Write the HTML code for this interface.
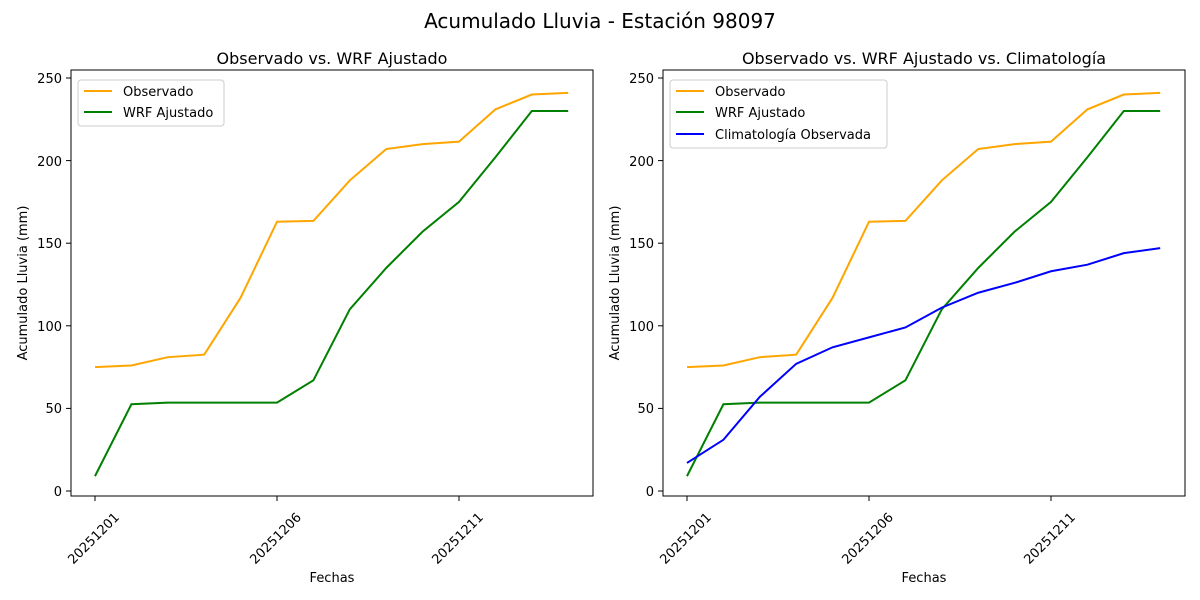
<!DOCTYPE html>
<html><head><meta charset="utf-8"><style>body{margin:0;background:#fff}svg{display:block;font-family:"DejaVu Sans","Liberation Sans",sans-serif}</style></head>
<body>
<svg width="1200" height="600" viewBox="0 0 1200 600">
<text x="600" y="28" font-size="20" text-anchor="middle">Acumulado Lluvia - Estación 98097</text>

<!-- LEFT -->
<g>
<text x="332" y="64" font-size="16" text-anchor="middle">Observado vs. WRF Ajustado</text>
<g transform="translate(95,491) scale(36.4,-1.652)" fill="none" stroke-width="2">
<polyline vector-effect="non-scaling-stroke" stroke="orange" points="0,75 1,76 2,81 3,82.5 4,117 5,163 6,163.5 7,188 8,207 9,210 10,211.5 11,231 12,240 13,241"/>
<polyline vector-effect="non-scaling-stroke" stroke="green" points="0,9 1,52.5 2,53.5 3,53.5 4,53.5 5,53.5 6,67 7,110 8,135 9,157 10,175 11,202 12,230 13,230"/>
</g>
<rect x="71" y="70" width="522" height="426" fill="none" stroke="#000" stroke-width="1"/>
<g stroke="#000"><line x1="71" x2="66" y1="491" y2="491"/><line x1="71" x2="66" y1="408.4" y2="408.4"/><line x1="71" x2="66" y1="325.8" y2="325.8"/><line x1="71" x2="66" y1="243.2" y2="243.2"/><line x1="71" x2="66" y1="160.6" y2="160.6"/><line x1="71" x2="66" y1="78" y2="78"/>
<line x1="95" x2="95" y1="496" y2="501"/><line x1="277" x2="277" y1="496" y2="501"/><line x1="459" x2="459" y1="496" y2="501"/></g>
<g font-size="13" text-anchor="end"><text x="62" y="496">0</text><text x="62" y="413">50</text><text x="62" y="331">100</text><text x="62" y="248">150</text><text x="62" y="166">200</text><text x="62" y="83">250</text></g>
<g font-size="13" text-anchor="end"><text transform="translate(120,518) rotate(-45)">20251201</text><text transform="translate(302,518) rotate(-45)">20251206</text><text transform="translate(484,518) rotate(-45)">20251211</text></g>
<text x="332" y="582" font-size="13" text-anchor="middle">Fechas</text>
<text transform="translate(27,283) rotate(-90)" font-size="13" text-anchor="middle">Acumulado Lluvia (mm)</text>
<rect x="78" y="80" width="146" height="46" rx="3" fill="#fff" stroke="#ccc"/>
<line x1="84" x2="112" y1="91" y2="91" stroke="orange" stroke-width="2"/><text x="123" y="96" font-size="13">Observado</text>
<line x1="84" x2="112" y1="112" y2="112" stroke="green" stroke-width="2"/><text x="123" y="117" font-size="13">WRF Ajustado</text>
</g>

<!-- RIGHT -->
<g transform="translate(592,0)">
<text x="332" y="64" font-size="16" text-anchor="middle">Observado vs. WRF Ajustado vs. Climatología</text>
<g transform="translate(95,491) scale(36.4,-1.652)" fill="none" stroke-width="2">
<polyline vector-effect="non-scaling-stroke" stroke="orange" points="0,75 1,76 2,81 3,82.5 4,117 5,163 6,163.5 7,188 8,207 9,210 10,211.5 11,231 12,240 13,241"/>
<polyline vector-effect="non-scaling-stroke" stroke="green" points="0,9 1,52.5 2,53.5 3,53.5 4,53.5 5,53.5 6,67 7,110 8,135 9,157 10,175 11,202 12,230 13,230"/>
<polyline vector-effect="non-scaling-stroke" stroke="blue" points="0,17 1,31 2,57 3,77 4,87 5,93 6,99 7,111 8,120 9,126 10,133 11,137 12,144 13,147"/>
</g>
<rect x="71" y="70" width="522" height="426" fill="none" stroke="#000" stroke-width="1"/>
<g stroke="#000"><line x1="71" x2="66" y1="491" y2="491"/><line x1="71" x2="66" y1="408.4" y2="408.4"/><line x1="71" x2="66" y1="325.8" y2="325.8"/><line x1="71" x2="66" y1="243.2" y2="243.2"/><line x1="71" x2="66" y1="160.6" y2="160.6"/><line x1="71" x2="66" y1="78" y2="78"/>
<line x1="95" x2="95" y1="496" y2="501"/><line x1="277" x2="277" y1="496" y2="501"/><line x1="459" x2="459" y1="496" y2="501"/></g>
<g font-size="13" text-anchor="end"><text x="62" y="496">0</text><text x="62" y="413">50</text><text x="62" y="331">100</text><text x="62" y="248">150</text><text x="62" y="166">200</text><text x="62" y="83">250</text></g>
<g font-size="13" text-anchor="end"><text transform="translate(120,518) rotate(-45)">20251201</text><text transform="translate(302,518) rotate(-45)">20251206</text><text transform="translate(484,518) rotate(-45)">20251211</text></g>
<text x="332" y="582" font-size="13" text-anchor="middle">Fechas</text>
<text transform="translate(27,283) rotate(-90)" font-size="13" text-anchor="middle">Acumulado Lluvia (mm)</text>
<rect x="78" y="80" width="217" height="68" rx="3" fill="#fff" stroke="#ccc"/>
<line x1="84" x2="112" y1="91" y2="91" stroke="orange" stroke-width="2"/><text x="123" y="96" font-size="13">Observado</text>
<line x1="84" x2="112" y1="112" y2="112" stroke="green" stroke-width="2"/><text x="123" y="117" font-size="13">WRF Ajustado</text>
<line x1="84" x2="112" y1="134" y2="134" stroke="blue" stroke-width="2"/><text x="123" y="139" font-size="13">Climatología Observada</text>
</g>
</svg>
</body></html>
